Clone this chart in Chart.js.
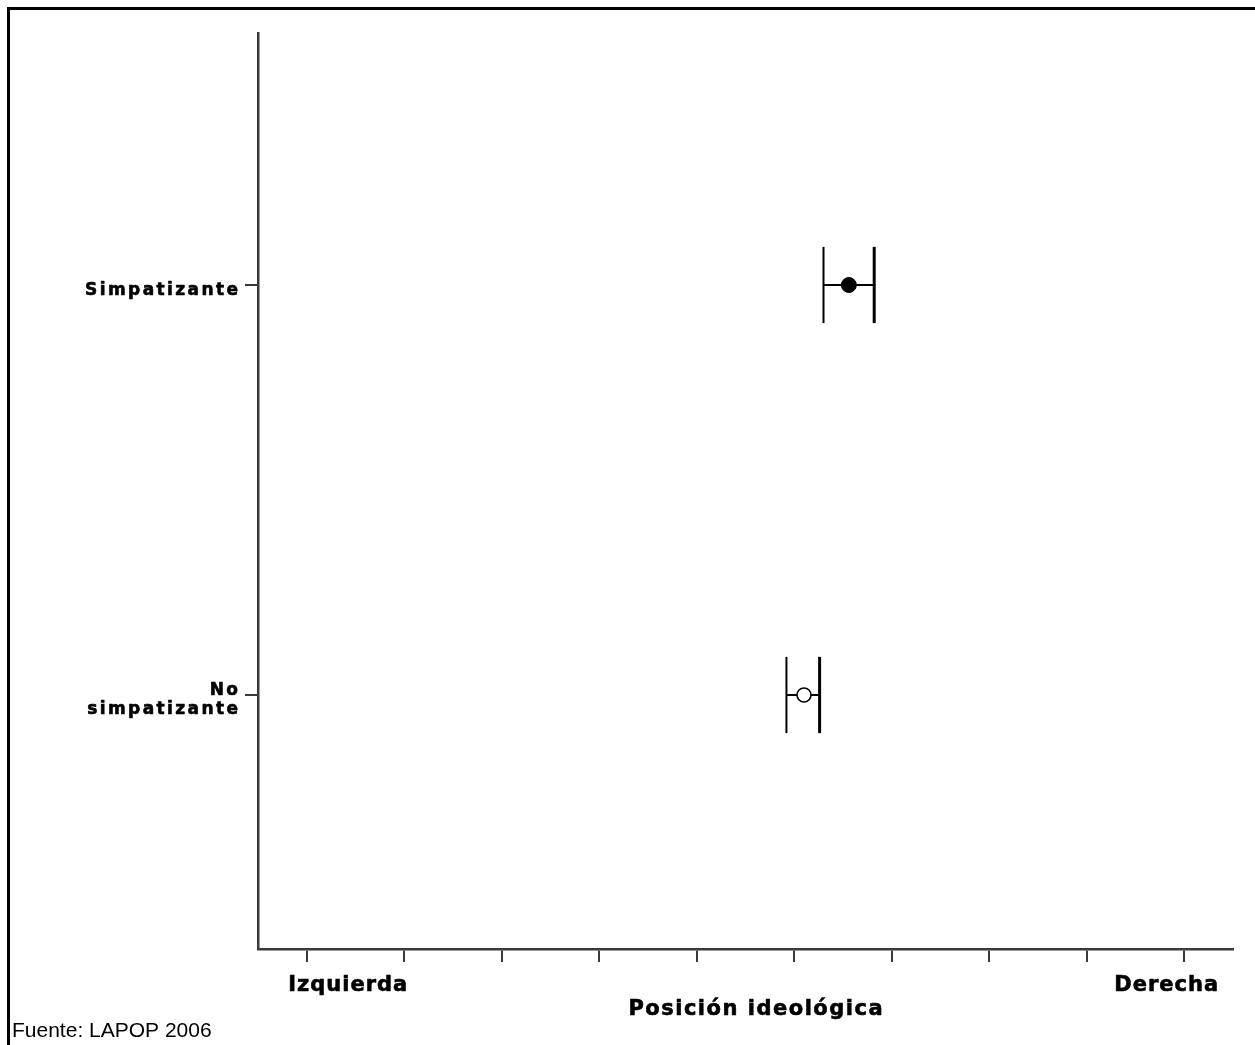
<!DOCTYPE html>
<html><head><meta charset="utf-8">
<script src="https://cdn.jsdelivr.net/npm/chart.js@4"></script>
<style>html,body{margin:0;padding:0;background:#fff;overflow:hidden}#wrap{width:1255px;height:1045px;position:relative}canvas{display:block}</style>
</head><body><div id="wrap"><canvas id="c" width="1255" height="1045"></canvas></div>
<script>
// ---- data ----
const categories = ['No simpatizante', 'Simpatizante'];
const categoryPositions = [1, 2];
const categoryLabelLines = [['No', 'simpatizante'], ['Simpatizante']];
const meanValues = [6.10, 6.56];
const lowerValues = [5.92, 6.30];
const upperValues = [6.26, 6.82];
const xTickValues = [1, 2, 3, 4, 5, 6, 7, 8, 9, 10];
const xTickLabels = ['Izquierda', '', '', '', '', '', '', '', '', 'Derecha'];
const yTickValues = [1, 2];
const xTitle = 'Posición ideológica';
const sourceNote = 'Fuente: LAPOP 2006';

// ---- styles ----
const AXIS = '#3a3a3a';
const CAP = 0.093;
const HEAVY = 'bold 21px "DejaVu Sans"';
const YFONT = 'bold 17px "DejaVu Sans"';

const datasets = [];
// means first so they are drawn on top
categories.forEach((c, i) => {
  const filled = i === 1;
  datasets.push({
    label: c + ' media',
    data: [{x: meanValues[i], y: categoryPositions[i]}],
    showLine: false,
    pointStyle: 'circle',
    pointRadius: filled ? 7.5 : 7,
    pointBackgroundColor: filled ? '#000' : '#fff',
    pointBorderColor: '#000',
    pointBorderWidth: filled ? 1 : 1.6
  });
});
categories.forEach((c, i) => {
  const y = categoryPositions[i];
  datasets.push({
    label: c + ' intervalo',
    data: [{x: lowerValues[i], y: y}, {x: upperValues[i], y: y}],
    showLine: true, borderColor: '#000', borderWidth: 2, pointRadius: 0
  });
  datasets.push({
    label: c + ' inferior',
    data: [{x: lowerValues[i], y: y - CAP}, {x: lowerValues[i], y: y + CAP}],
    showLine: true, borderColor: '#000', borderWidth: 2, pointRadius: 0
  });
  datasets.push({
    label: c + ' superior',
    data: [{x: upperValues[i], y: y - CAP}, {x: upperValues[i], y: y + CAP}],
    showLine: true, borderColor: '#000', borderWidth: 3, pointRadius: 0
  });
});

function spacedText(ctx, txt, x, y, align, spacing, font) {
  ctx.save();
  ctx.font = font;
  ctx.fillStyle = '#000';
  ctx.strokeStyle = '#000';
  ctx.lineWidth = 0.6;
  ctx.lineJoin = 'round';
  ctx.textBaseline = 'alphabetic';
  ctx.textAlign = 'left';
  let w = 0;
  const widths = [];
  for (const ch of txt) { const cw = ctx.measureText(ch).width; widths.push(cw); w += cw + spacing; }
  w -= spacing;
  let cx = align === 'right' ? x - w : (align === 'center' ? x - w / 2 : x);
  let k = 0;
  for (const ch of txt) {
    ctx.fillText(ch, cx, y);
    ctx.strokeText(ch, cx, y);
    cx += widths[k++] + spacing;
  }
  ctx.restore();
}

const framePlugin = {
  id: 'frame',
  beforeDraw(chart) {
    const ctx = chart.ctx;
    ctx.save();
    ctx.fillStyle = '#fff';
    ctx.fillRect(0, 0, chart.width, chart.height);
    ctx.fillStyle = '#000';
    ctx.fillRect(7, 7, chart.width - 7, 3);
    ctx.fillRect(7, 7, 3, chart.height - 7);
    ctx.restore();
  },
  afterDraw(chart) {
    const ctx = chart.ctx;
    const xs = chart.scales.x, ys = chart.scales.y;
    // y category labels
    categoryLabelLines.forEach((lines, i) => {
      const py = ys.getPixelForValue(categoryPositions[i]);
      const rx = ys.right - 20;
      if (lines.length === 1) {
        spacedText(ctx, lines[0], rx, py + 10, 'right', 2.4, YFONT);
      } else {
        spacedText(ctx, lines[0], rx, py + 0, 'right', 2.4, YFONT);
        spacedText(ctx, lines[1], rx, py + 19, 'right', 2.4, YFONT);
      }
    });
    // x tick labels
    xTickValues.forEach((v, i) => {
      const t = xTickLabels[i];
      if (!t) return;
      const px = xs.getPixelForValue(v);
      if (i === 0) spacedText(ctx, t, px - 18.5, 991, 'left', 1.0, HEAVY);
      else spacedText(ctx, t, px - 70, 991, 'left', 1.0, HEAVY);
    });
    // axis title
    const cxm = (chart.chartArea.left + chart.chartArea.right) / 2;
    spacedText(ctx, xTitle, cxm + 10, 1015, 'center', 1.5, HEAVY);
    // source note
    ctx.save();
    ctx.font = '21px "Liberation Sans"';
    ctx.fillStyle = '#000';
    ctx.textAlign = 'left';
    ctx.textBaseline = 'alphabetic';
    ctx.fillText(sourceNote, 12, 1037);
    ctx.restore();
  }
};

new Chart(document.getElementById('c'), {
  type: 'scatter',
  data: { datasets },
  plugins: [framePlugin],
  options: {
    responsive: false,
    animation: false,
    devicePixelRatio: 1,
    layout: { padding: { top: 33, right: 22, left: 0, bottom: 0 } },
    plugins: { legend: { display: false }, tooltip: { enabled: false } },
    scales: {
      x: {
        type: 'linear', min: 0.5, max: 10.5,
        afterBuildTicks: s => { s.ticks = xTickValues.map(v => ({ value: v })); },
        afterFit: s => { s.height = 96; },
        ticks: { display: false },
        grid: { drawOnChartArea: false, drawTicks: true, tickLength: 13, color: AXIS, lineWidth: 2 },
        border: { display: true, color: AXIS, width: 2.5 }
      },
      y: {
        type: 'linear', min: 0.3805, max: 2.6146,
        afterBuildTicks: s => { s.ticks = yTickValues.map(v => ({ value: v })); },
        afterFit: s => { s.width = 258; },
        ticks: { display: false },
        grid: { drawOnChartArea: false, drawTicks: true, tickLength: 13, color: AXIS, lineWidth: 2 },
        border: { display: true, color: AXIS, width: 2.5 }
      }
    }
  }
});
</script>
</body></html>
